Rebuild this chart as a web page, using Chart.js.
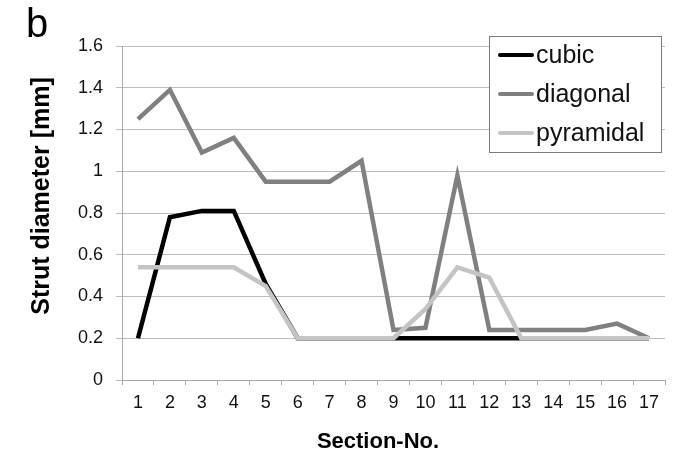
<!DOCTYPE html>
<html>
<head>
<meta charset="utf-8">
<script src="https://cdn.jsdelivr.net/npm/chart.js@4.4.1/dist/chart.umd.min.js"></script>
<style>
  html, body { margin: 0; padding: 0; background: #fff; }
  #wrap { width: 679px; height: 456px; position: relative; }
</style>
</head>
<body>
<div id="wrap"><canvas id="chart"></canvas></div>
<script>
// --- Data ---
const sections = ['1', '2', '3', '4', '5', '6', '7', '8', '9', '10', '11', '12', '13', '14', '15', '16', '17'];
const cubic =     [0.20, 0.78, 0.81, 0.81, 0.46, 0.20, 0.20, 0.20, 0.20, 0.20, 0.20, 0.20, 0.20, 0.20, 0.20, 0.20, 0.20];
const diagonal =  [1.25, 1.39, 1.09, 1.16, 0.95, 0.95, 0.95, 1.05, 0.24, 0.25, 0.98, 0.24, 0.24, 0.24, 0.24, 0.27, 0.20];
const pyramidal = [0.54, 0.54, 0.54, 0.54, 0.45, 0.20, 0.20, 0.20, 0.20, 0.34, 0.54, 0.49, 0.20, 0.20, 0.20, 0.20, 0.20];

const FONT = '"Liberation Sans", Arial, sans-serif';

// legend box + panel letter + axis titles drawn on top
const extras = {
    id: 'extras',
    afterDraw(chart) {
        const ctx = chart.ctx;
        ctx.save();

        // panel letter
        ctx.fillStyle = '#000';
        ctx.font = '40px ' + FONT;
        ctx.textBaseline = 'alphabetic';
        ctx.textAlign = 'left';
        ctx.fillText('b', 26, 37);

        // axis titles
        ctx.font = 'bold 22px ' + FONT;
        ctx.textAlign = 'center';
        ctx.textBaseline = 'middle';
        ctx.fillText('Section-No.', 378, 442);

        ctx.save();
        ctx.translate(42, 196);
        ctx.rotate(-Math.PI / 2);
        ctx.font = 'bold 25px ' + FONT;
        ctx.fillText('Strut diameter [mm]', 0, 0);
        ctx.restore();

        // legend
        const bx = 489, by = 36, bw = 172, bh = 116;
        ctx.fillStyle = '#fff';
        ctx.fillRect(bx, by, bw, bh);
        ctx.strokeStyle = '#7a7a7a';
        ctx.lineWidth = 1;
        ctx.strokeRect(bx + 0.5, by + 0.5, bw, bh);

        ctx.font = '25px ' + FONT;
        ctx.textAlign = 'left';
        ctx.textBaseline = 'middle';
        chart.data.datasets.forEach((ds, i) => {
            const y = 55 + i * 39;
            ctx.strokeStyle = ds.borderColor;
            ctx.lineWidth = 4;
            ctx.lineCap = 'round';
            ctx.beginPath();
            ctx.moveTo(500, y);
            ctx.lineTo(532, y);
            ctx.stroke();
            ctx.fillStyle = '#111';
            ctx.fillText(ds.label, 536, y + 1);
        });

        ctx.restore();
    }
};

const ctx = document.getElementById('chart').getContext('2d');
new Chart(ctx, {
    type: 'line',
    data: {
        labels: sections,
        datasets: [
            { label: 'cubic', data: cubic, borderColor: '#000000' },
            { label: 'diagonal', data: diagonal, borderColor: '#808080' },
            { label: 'pyramidal', data: pyramidal, borderColor: '#c4c4c4' }
        ].map((d, i) => Object.assign(d, {
            borderWidth: 4.5,
            pointRadius: 0,
            tension: 0,
            fill: false,
            order: 3 - i,
            borderJoinStyle: 'miter'
        }))
    },
    options: {
        responsive: true,
        maintainAspectRatio: false,
        animation: false,
        layout: { padding: { left: 0, top: 46, right: 14, bottom: 0 } },
        plugins: {
            legend: { display: false },
            tooltip: { enabled: false }
        },
        scales: {
            x: {
                offset: true,
                grid: {
                    offset: true,
                    drawOnChartArea: false,
                    drawTicks: true,
                    tickLength: 5,
                    color: '#a8a8a8'
                },
                border: { color: '#a8a8a8', width: 1 },
                ticks: {
                    color: '#111',
                    font: { family: FONT, size: 18 },
                    padding: 7,
                    maxRotation: 0,
                    autoSkip: false
                },
                afterFit(scale) { scale.height = 76; }
            },
            y: {
                min: 0,
                max: 1.6,
                ticks: {
                    stepSize: 0.2,
                    color: '#111',
                    font: { family: FONT, size: 18 },
                    padding: 13,
                    callback: v => String(parseFloat(v.toFixed(1)))
                },
                grid: {
                    color: '#bdbdbd',
                    tickLength: 6
                },
                border: { color: '#a8a8a8', width: 1 },
                afterFit(scale) { scale.width = 122; }
            }
        }
    },
    plugins: [extras]
});
</script>
</body>
</html>
